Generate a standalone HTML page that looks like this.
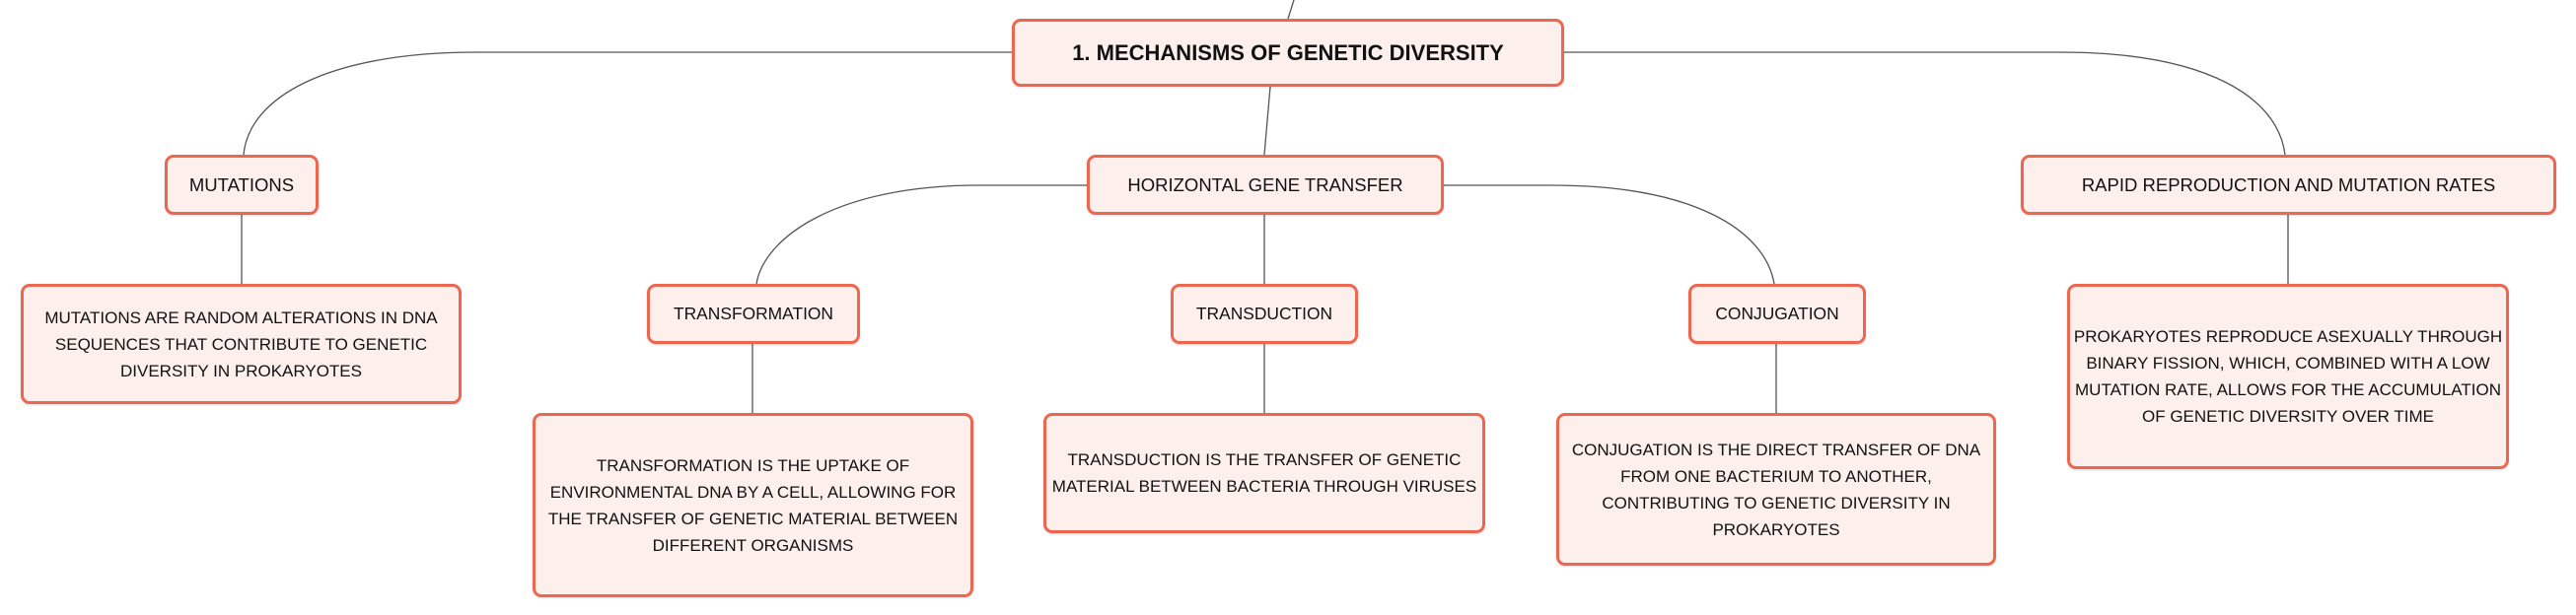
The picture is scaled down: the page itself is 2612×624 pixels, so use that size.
<!DOCTYPE html>
<html><head><meta charset="utf-8"><style>
html,body{margin:0;padding:0;background:#fff;}
body{width:2612px;height:624px;position:relative;overflow:hidden;font-family:"Liberation Sans",sans-serif;color:#111;}
.b{position:absolute;box-sizing:border-box;background:#fdf0ec;border:3px solid #ec6650;border-radius:9px;display:flex;align-items:center;justify-content:center;text-align:center;font-size:18.5px;box-shadow:0 1px 2px rgba(0,0,0,.15);white-space:nowrap;}
.d{font-size:17px;line-height:27px;padding:0;}
svg{position:absolute;left:0;top:0;}
</style></head><body>
<svg width="2612" height="624" fill="none" stroke="#555" stroke-width="1.3">
<path d="M1312,0 L1306,19"/>
<path d="M1288,88 L1282,157"/>
<path d="M1026,53 H483 C330,53 252,100 247,157"/>
<path d="M1586,53 H2089 C2240,53 2310,100 2317,157"/>
<path d="M1102,188 H992 C850,188 775,240 767,288"/>
<path d="M1463,188 H1573 C1720,188 1790,235 1799,288"/>
<path d="M1282,218 V288"/>
<path d="M245,218 V288"/>
<path d="M763,349 V419"/>
<path d="M1282,349 V419"/>
<path d="M1801,349 V419"/>
<path d="M2320,218 V288"/>
</svg>
<div class="b" style="left:1026px;top:19px;width:560px;height:69px;font-weight:bold;font-size:22px;">1. MECHANISMS OF GENETIC DIVERSITY</div>
<div class="b" style="left:167px;top:157px;width:156px;height:61px;">MUTATIONS</div>
<div class="b" style="left:1102px;top:157px;width:362px;height:61px;">HORIZONTAL GENE TRANSFER</div>
<div class="b" style="left:2049px;top:157px;width:543px;height:61px;">RAPID REPRODUCTION AND MUTATION RATES</div>
<div class="b d" style="left:21px;top:288px;width:447px;height:122px;">MUTATIONS ARE RANDOM ALTERATIONS IN DNA<br>SEQUENCES THAT CONTRIBUTE TO GENETIC<br>DIVERSITY IN PROKARYOTES</div>
<div class="b" style="left:656px;top:288px;width:216px;height:61px;font-size:17.4px;">TRANSFORMATION</div>
<div class="b" style="left:1187px;top:288px;width:190px;height:61px;font-size:17.4px;">TRANSDUCTION</div>
<div class="b" style="left:1712px;top:288px;width:180px;height:61px;font-size:17.4px;">CONJUGATION</div>
<div class="b d" style="left:540px;top:419px;width:447px;height:187px;">TRANSFORMATION IS THE UPTAKE OF<br>ENVIRONMENTAL DNA BY A CELL, ALLOWING FOR<br>THE TRANSFER OF GENETIC MATERIAL BETWEEN<br>DIFFERENT ORGANISMS</div>
<div class="b d" style="left:1058px;top:419px;width:448px;height:122px;">TRANSDUCTION IS THE TRANSFER OF GENETIC<br>MATERIAL BETWEEN BACTERIA THROUGH VIRUSES</div>
<div class="b d" style="left:1578px;top:419px;width:446px;height:155px;">CONJUGATION IS THE DIRECT TRANSFER OF DNA<br>FROM ONE BACTERIUM TO ANOTHER,<br>CONTRIBUTING TO GENETIC DIVERSITY IN<br>PROKARYOTES</div>
<div class="b d" style="left:2096px;top:288px;width:448px;height:188px;">PROKARYOTES REPRODUCE ASEXUALLY THROUGH<br>BINARY FISSION, WHICH, COMBINED WITH A LOW<br>MUTATION RATE, ALLOWS FOR THE ACCUMULATION<br>OF GENETIC DIVERSITY OVER TIME</div>
</body></html>
